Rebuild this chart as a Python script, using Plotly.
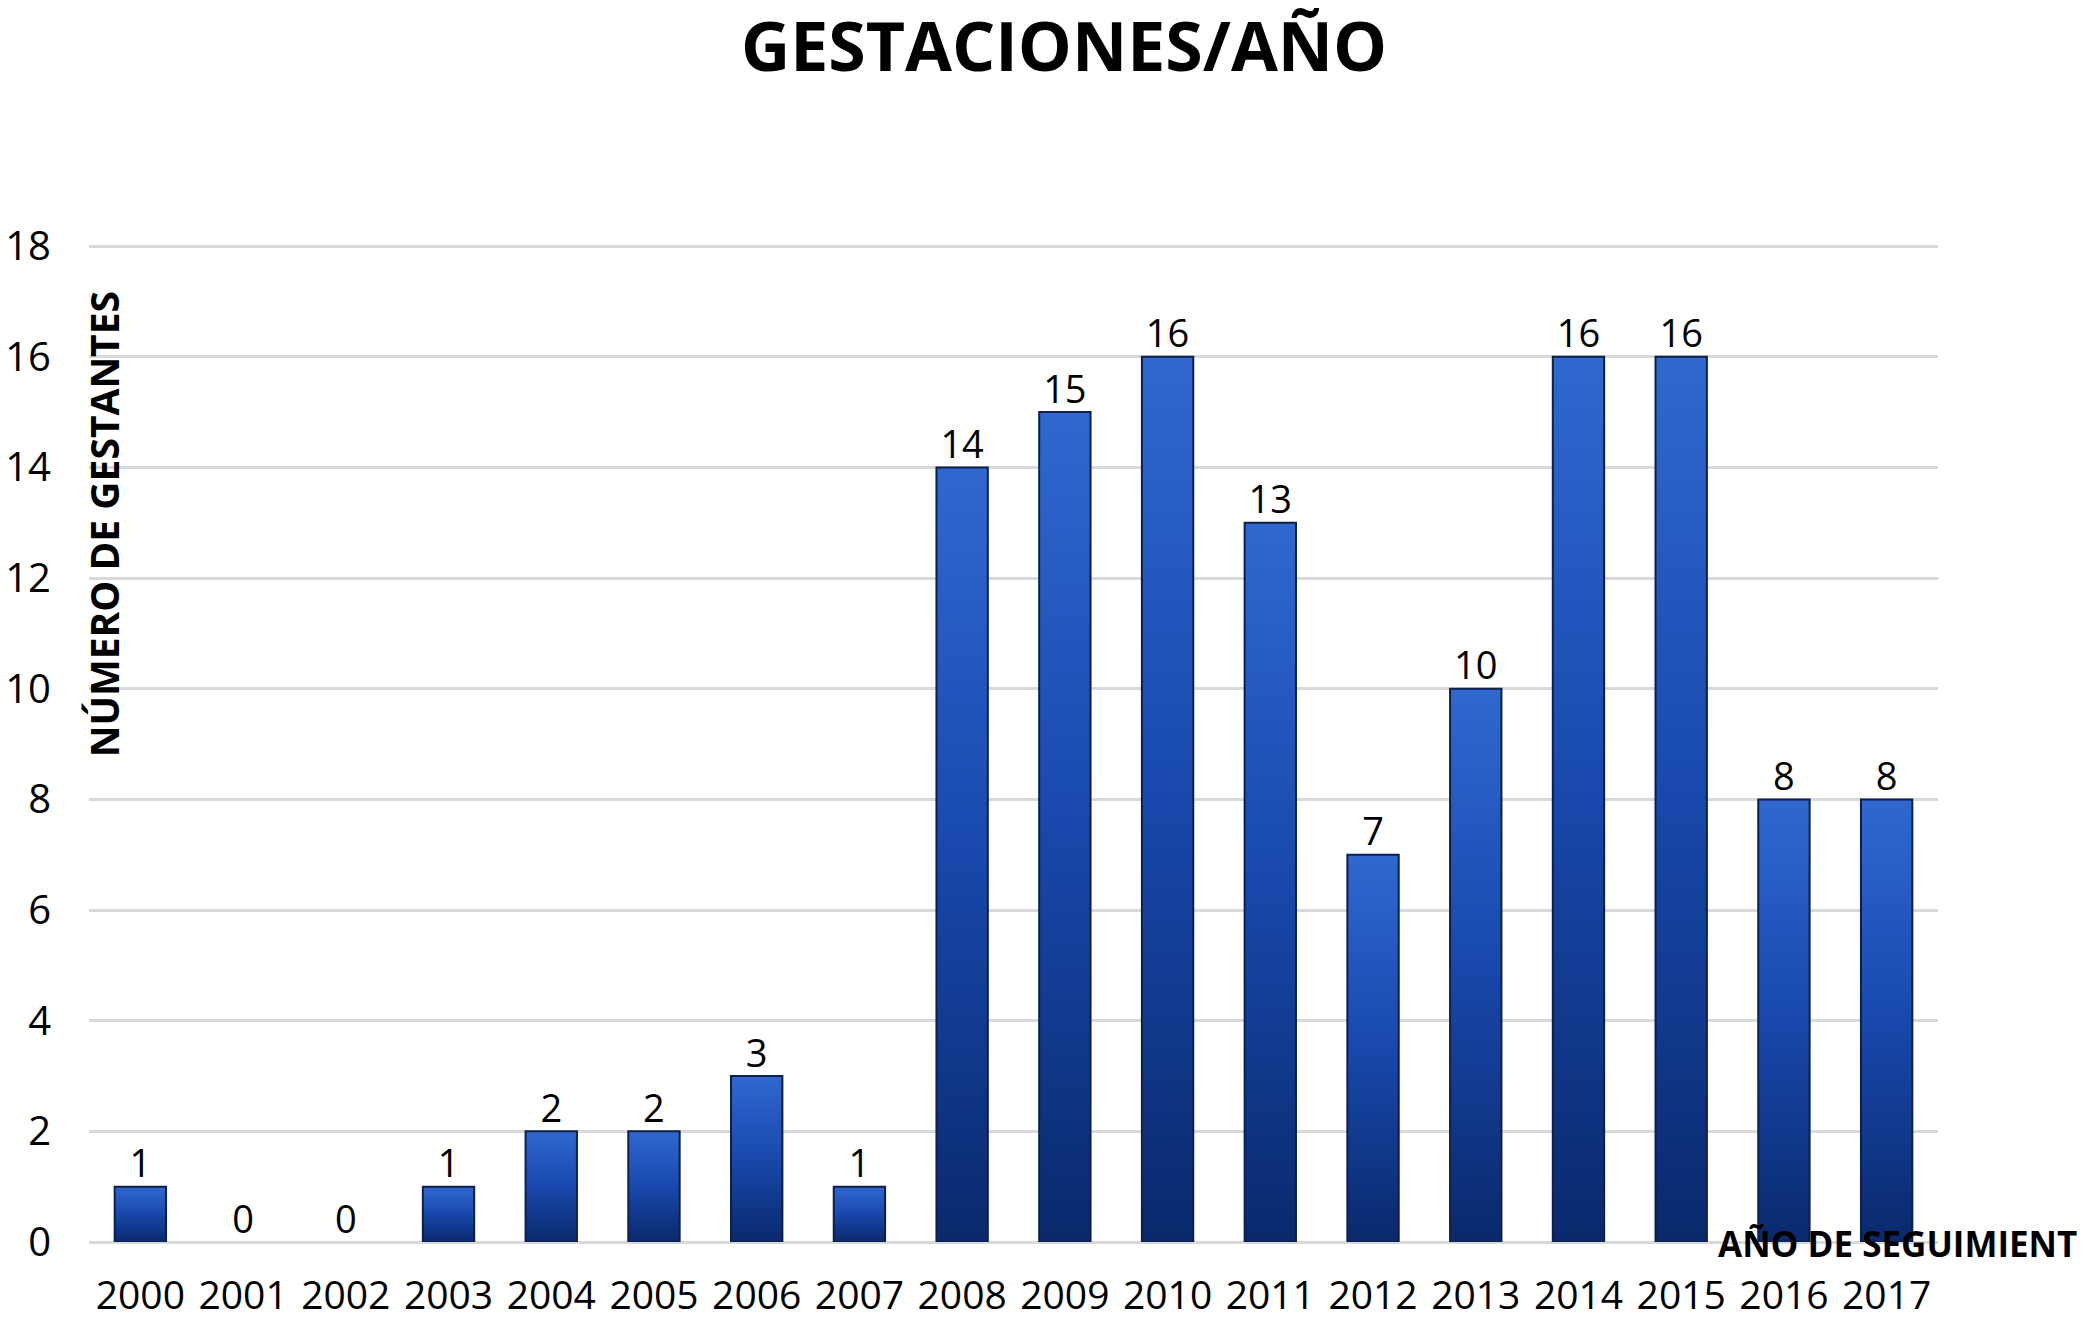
import plotly.graph_objects as go

years = ["2000", "2001", "2002", "2003", "2004", "2005", "2006", "2007", "2008",
         "2009", "2010", "2011", "2012", "2013", "2014", "2015", "2016", "2017"]
gestantes = [1, 0, 0, 1, 2, 2, 3, 1, 14, 15, 16, 13, 7, 10, 16, 16, 8, 8]
y_ticks = [0, 2, 4, 6, 8, 10, 12, 14, 16, 18]

title_text = "GESTACIONES/AÑO"
y_title = "NÚMERO DE GESTANTES"
x_title = "AÑO DE SEGUIMIENT"

FONT = "Open Sans"
half_w = 0.25

fig = go.Figure()
for i, v in enumerate(gestantes):
    if v <= 0:
        continue
    fig.add_trace(go.Scatter(
        x=[i - half_w, i - half_w, i + half_w, i + half_w, i - half_w],
        y=[0, v, v, 0, 0],
        mode="lines",
        fill="toself",
        fillgradient=dict(type="vertical",
                          colorscale=[[0, "#0a296c"], [0.5, "#1848ac"], [1, "#3068d0"]]),
        line=dict(color="#0d1f4a", width=2),
        hoverinfo="skip",
        showlegend=False,
    ))

fig.add_trace(go.Scatter(
    x=list(range(len(years))), y=gestantes,
    mode="text", text=[str(v) for v in gestantes],
    textposition="top center",
    textfont=dict(family=FONT, size=38, color="#000000"),
    hoverinfo="skip", showlegend=False,
))

fig.update_layout(
    width=2083, height=1311,
    margin=dict(l=81, r=153, t=237, b=77),
    paper_bgcolor="white", plot_bgcolor="white",
    font=dict(family=FONT, color="#000000"),
    title=dict(text="<b>" + title_text + "</b>", x=0.507, xanchor="center",
               y=0.970, yanchor="middle",
               font=dict(family=FONT, size=68, color="#000000")),
    xaxis=dict(range=[-0.5, len(years) - 0.5], tickmode="array",
               tickvals=list(range(len(years))), ticktext=years, tickangle=0,
               showgrid=False, zeroline=False, showline=False, automargin=False,
               tickfont=dict(family=FONT, size=39, color="#000000"),
               ticklabelstandoff=27),
    yaxis=dict(range=[0, 18.02], tickmode="array", tickvals=y_ticks,
               showgrid=True, gridcolor="#d9d9d9", gridwidth=3,
               zeroline=True, zerolinecolor="#d9d9d9", zerolinewidth=3,
               showline=False, automargin=False,
               tickfont=dict(family=FONT, size=40, color="#000000"),
               ticklabelstandoff=37),
    annotations=[
        dict(text="<b>" + y_title + "</b>", xref="paper", yref="paper",
             x=0.0076, y=0.72, textangle=-90, showarrow=False,
             xanchor="center", yanchor="middle",
             font=dict(family=FONT, size=39, color="#000000")),
        dict(text="<b>" + x_title + "</b>", xref="paper", yref="paper",
             x=1.076, y=-0.002, showarrow=False,
             xanchor="right", yanchor="middle",
             font=dict(family=FONT, size=35, color="#000000")),
    ],
)

fig.write_html("out.html")
